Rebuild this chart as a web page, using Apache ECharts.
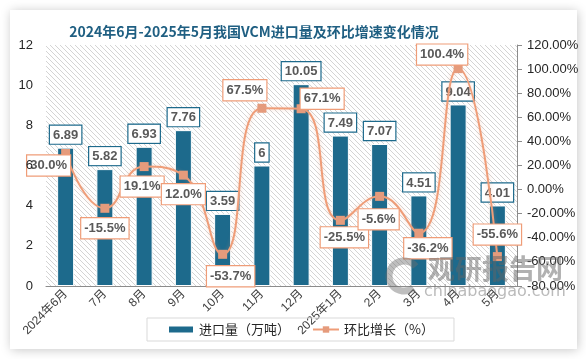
<!DOCTYPE html>
<html><head><meta charset="utf-8">
<script src="https://cdn.jsdelivr.net/npm/echarts@6/dist/echarts.min.js"></script>
<style>html,body{margin:0;padding:0;background:#fff}#c{width:586px;height:359px}</style>
</head><body><div id="c"></div>
<script>
const titleText = '2024年6月-2025年5月我国VCM进口量及环比增速变化情况';
const categories = ['2024年6月','7月','8月','9月','10月','11月','12月','2025年1月','2月','3月','4月','5月'];
const importVolume = [6.89, 5.82, 6.93, 7.76, 3.59, 6, 10.05, 7.49, 7.07, 4.51, 9.04, 4.01];
const momGrowth = [30.0, -15.5, 19.1, 12.0, -53.7, 67.5, 67.1, -25.5, -5.6, -36.2, 100.4, -55.6];
const leftTicks = {min: 0, max: 12, interval: 2};
const rightTicks = {min: -80, max: 120, interval: 20};
const seriesNames = ['进口量（万吨）', '环比增长（%）'];
// label placement (styling only)
const lineLabelOffsets = [[-17,12],[0,20],[-2,20],[0,19],[8,22],[-17,-18],[21,-10],[4,17],[-1,23],[9,15],[-16,-14],[0,-22]];

const FONT = '"Liberation Sans", "Noto Sans CJK SC", sans-serif';
const BAR = '#1d6a8c';
const LINE = '#ef9d78';
const MARK = '#e59b7c';
const SYM = 9;

// hatch pattern
const S = 5;
const tile = document.createElement('canvas');
tile.width = S; tile.height = S;
const tc = tile.getContext('2d');
tc.fillStyle = '#ffffff'; tc.fillRect(0,0,S,S);
tc.strokeStyle = '#d4d4d4'; tc.lineWidth = 1;
tc.beginPath();
tc.moveTo(-1,-1); tc.lineTo(S+1,S+1);
tc.moveTo(-1,S-1); tc.lineTo(1,S+1);
tc.moveTo(S-1,-1); tc.lineTo(S+1,1);
tc.stroke();

const chart = echarts.init(document.getElementById('c'), null, {renderer: 'canvas'});

chart.setOption({
  backgroundColor: '#ffffff',
  animation: false,
  title: {
    text: titleText, left: 249, top: 20, textAlign: 'center',
    textStyle: {fontFamily: '"Noto Sans CJK SC", sans-serif', fontSize: 14, fontWeight: 'bold', color: '#1f5f82'}
  },
  graphic: [
    {type: 'rect', z: -10, shape: {x: 10, y: 10, width: 567, height: 339},
     style: {fill: '#fff', shadowBlur: 10, shadowColor: 'rgba(0,0,0,0.22)', shadowOffsetX: 1, shadowOffsetY: 1}},
    {type: 'arc', z: 100, shape: {cx: 404, cy: 276, r: 15, startAngle: 0.9, endAngle: 5.6},
     style: {stroke: 'rgba(110,110,110,0.45)', lineWidth: 7, fill: null}},
    {type: 'text', z: 100, left: 428, top: 255,
     style: {text: '观研报告网', font: 'bold 27px "Noto Sans CJK SC"', fill: 'rgba(100,100,100,0.5)'}},
    {type: 'text', z: 100, left: 424, top: 284,
     style: {text: 'chinabaogao.com', font: '16px "DejaVu Sans"', fill: 'rgba(120,120,120,0.5)'}}
  ],
  legend: {
    left: 147, top: 318, padding: [5, 20], itemGap: 22,
    borderColor: '#d9d9d9', borderWidth: 1,
    itemWidth: 26, itemHeight: 8,
    textStyle: {fontFamily: '"Noto Sans CJK SC", sans-serif', fontSize: 13, color: '#262626'},
    data: [{name: seriesNames[0], icon: 'rect'}, {name: seriesNames[1]}]
  },
  grid: {left: 46, right: 69, top: 45, bottom: 73, show: true, borderWidth: 0,
    backgroundColor: {image: tile, repeat: 'repeat'}},
  xAxis: {
    type: 'category', data: categories,
    axisLine: {lineStyle: {color: '#8c8c8c', width: 1}},
    axisTick: {show: false},
    axisLabel: {rotate: 45, fontSize: 12, color: '#404040', fontFamily: FONT, margin: 6, interval: 0}
  },
  yAxis: [
    {type: 'value', min: leftTicks.min, max: leftTicks.max, interval: leftTicks.interval, z: 20,
     axisLine: {show: false}, axisTick: {show: false}, splitLine: {show: false},
     axisLabel: {fontSize: 13, color: '#262626', fontFamily: FONT, margin: 13}},
    {type: 'value', min: rightTicks.min, max: rightTicks.max, interval: rightTicks.interval,
     position: 'right',
     axisLine: {show: true, lineStyle: {color: '#8c8c8c'}},
     axisTick: {show: true, length: 5, lineStyle: {color: '#8c8c8c'}},
     splitLine: {show: false},
     axisLabel: {fontSize: 13, color: '#262626', fontFamily: FONT, margin: 10,
       formatter: v => v.toFixed(2) + '%'}}
  ],
  series: [
    {
      name: seriesNames[0], type: 'bar', data: importVolume, barWidth: 17,
      itemStyle: {color: BAR, borderColor: '#ffffff', borderWidth: 1},
      label: {show: true, position: 'top', distance: 4,
        fontFamily: FONT, fontSize: 13, fontWeight: 'bold', color: '#595959',
        backgroundColor: '#fff', borderColor: BAR, borderWidth: 1.2, padding: [3, 3, 2, 3]}
    },
    {
      name: seriesNames[1], type: 'line', yAxisIndex: 1, data: momGrowth, smooth: 0.5, z: 5,
      symbol: 'rect', symbolSize: SYM,
      lineStyle: {color: LINE, width: 2, shadowBlur: 4, shadowColor: 'rgba(239,157,120,0.4)'},
      itemStyle: {color: MARK},
      label: {show: true, position: 'inside',
        formatter: p => p.value.toFixed(1) + '%',
        fontFamily: FONT, fontSize: 13, fontWeight: 'bold', color: '#595959',
        backgroundColor: '#fff', borderColor: LINE, borderWidth: 1.2, padding: [4, 3, 3, 3]},
      labelLayout: p => ({dx: lineLabelOffsets[p.dataIndex][0], dy: lineLabelOffsets[p.dataIndex][1]})
    }
  ]
});
</script></body></html>
